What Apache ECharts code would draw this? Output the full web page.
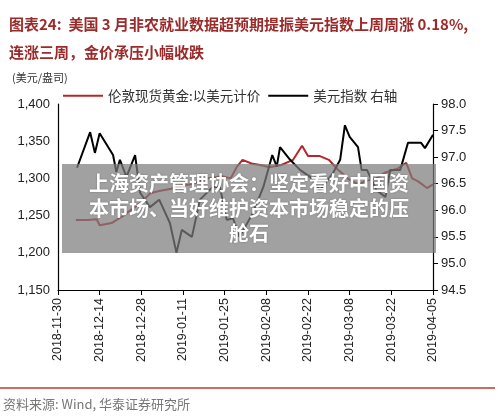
<!DOCTYPE html>
<html><head><meta charset="utf-8">
<script src="https://cdn.jsdelivr.net/npm/echarts@6/dist/echarts.min.js"></script>
<style>html,body{margin:0;padding:0;background:#fff}#c{width:500px;height:417px}</style>
</head><body><div id="c"></div>
<script>
// day offsets from 2018-11-30
const goldDays = [6,10,13,14,18,22,26,28,31,34,38,41,45,50,55,58,60,62,65,68,71,75,79,82,84,88,91,94,98,101,103,107,110,114,117,119,121,124,126];
const goldValues = [1244,1244,1245,1237,1240,1250,1262,1268,1280,1283,1286,1290,1292,1300,1303,1300,1315,1325,1320,1318,1315,1318,1325,1344,1330,1330,1325,1312,1298,1292,1296,1300,1308,1313,1321,1300,1296,1287,1292];
const usdDays = [6.4,10.8,12.4,14,18.5,19.6,20.8,23,25.9,27.6,30.9,34,37.6,39.8,41.6,45,47.7,52,54.4,56.7,58.8,61,65.5,69,72,73.5,74.6,78,81.3,84.7,88,92.4,94.8,96.4,98,100.8,102,103.8,107,110,111.6,115,117.6,122,123.3,126];
const usdValues = [96.80,97.47,97.08,97.45,97.04,96.72,96.95,96.63,97.04,96.33,96.06,96.2,95.76,95.2,95.63,95.5,96.2,96.44,96.44,95.82,95.85,95.5,95.95,96.44,97.04,96.82,97.19,96.95,96.76,96.63,96.38,96.70,96.95,97.6,97.38,97.19,96.76,96.76,96.38,96.25,96.76,96.76,97.27,97.27,97.17,97.42];
const startDate = '2018-11-30';
const leftTicks = [1150,1400,50];
const rightTicks = [94.5,98.0,0.5];

const base = new Date(startDate+'T00:00:00Z').getTime();
function fmtDay(d){const t=new Date(base+d*86400000);return t.toISOString().slice(0,10);}
const chart = echarts.init(document.getElementById('c'));
const axLine={lineStyle:{color:'#000',width:1.2}};
chart.setOption({
  animation:false,
  grid:{left:58,right:67,top:104,bottom:127},
  title:{text:'图表24:  美国 3 月非农就业数据超预期提振美元指数上周周涨 0.18%,\n连涨三周，金价承压小幅收跌',left:4,top:5,
    textStyle:{fontSize:15,fontWeight:'bold',color:'#9b2a2a',lineHeight:28,fontFamily:'Noto Sans CJK SC'}},
  legend:{top:84,left:58,itemWidth:40,itemHeight:2,itemGap:8,icon:'rect',
    textStyle:{fontSize:13.5,color:'#333',fontFamily:'Noto Sans CJK SC'},
    data:['伦敦现货黄金:以美元计价','美元指数 右轴']},
  xAxis:{type:'value',min:0,max:126,interval:14,axisLine:axLine,
    axisTick:{show:true,length:5,lineStyle:{color:'#000'}},splitLine:{show:false},
    axisLabel:{rotate:90,fontSize:12.5,color:'#222',fontFamily:'Liberation Sans',formatter:v=>fmtDay(v)}},
  yAxis:[
    {type:'value',min:leftTicks[0],max:leftTicks[1],interval:leftTicks[2],axisLine:{show:true,...axLine},
     axisTick:{show:false},splitLine:{show:false},
     axisLabel:{fontSize:13,color:'#222',fontFamily:'Liberation Sans',margin:8,formatter:v=>v.toLocaleString('en-US')}},
    {type:'value',min:rightTicks[0],max:rightTicks[1],interval:rightTicks[2],position:'right',axisLine:{show:true,...axLine},
     axisTick:{show:true,length:5,lineStyle:{color:'#000'}},splitLine:{show:false},
     axisLabel:{fontSize:13,color:'#222',fontFamily:'Liberation Sans',margin:8,formatter:v=>v.toFixed(1)}}
  ],
  series:[
    {name:'伦敦现货黄金:以美元计价',type:'line',yAxisIndex:0,symbol:'none',color:'#b8262b',lineStyle:{width:2},
     data:goldDays.map((d,i)=>[d,goldValues[i]])},
    {name:'美元指数 右轴',type:'line',yAxisIndex:1,symbol:'none',color:'#000',lineStyle:{width:2},
     data:usdDays.map((d,i)=>[d,usdValues[i]])}
  ],
  graphic:[
    {type:'text',left:12,top:72,style:{text:'(美元/盎司)',fontSize:11,fill:'#333',fontFamily:'Noto Sans CJK SC'}},
    {type:'line',shape:{x1:0,y1:388,x2:495,y2:388},style:{stroke:'#c0392b',lineWidth:1.5}},
    {type:'text',left:3,top:398,style:{text:'资料来源: Wind, 华泰证券研究所',fontSize:13,fill:'#777',fontFamily:'Noto Sans CJK SC'}},
    {type:'rect',shape:{x:62,y:164,width:374,height:89},style:{fill:'rgba(125,125,125,0.72)'},z:100},
    {type:'text',x:249,y:208,z:101,style:{text:'上海资产管理协会：坚定看好中国资\n本市场、当好维护资本市场稳定的压\n舱石',
      fontSize:20,fontWeight:'bold',fill:'#fff',align:'center',verticalAlign:'middle',lineHeight:25,fontFamily:'Noto Sans CJK SC',
      textShadowColor:'rgba(0,0,0,0.3)',textShadowBlur:2}}
  ]
});
</script></body></html>
